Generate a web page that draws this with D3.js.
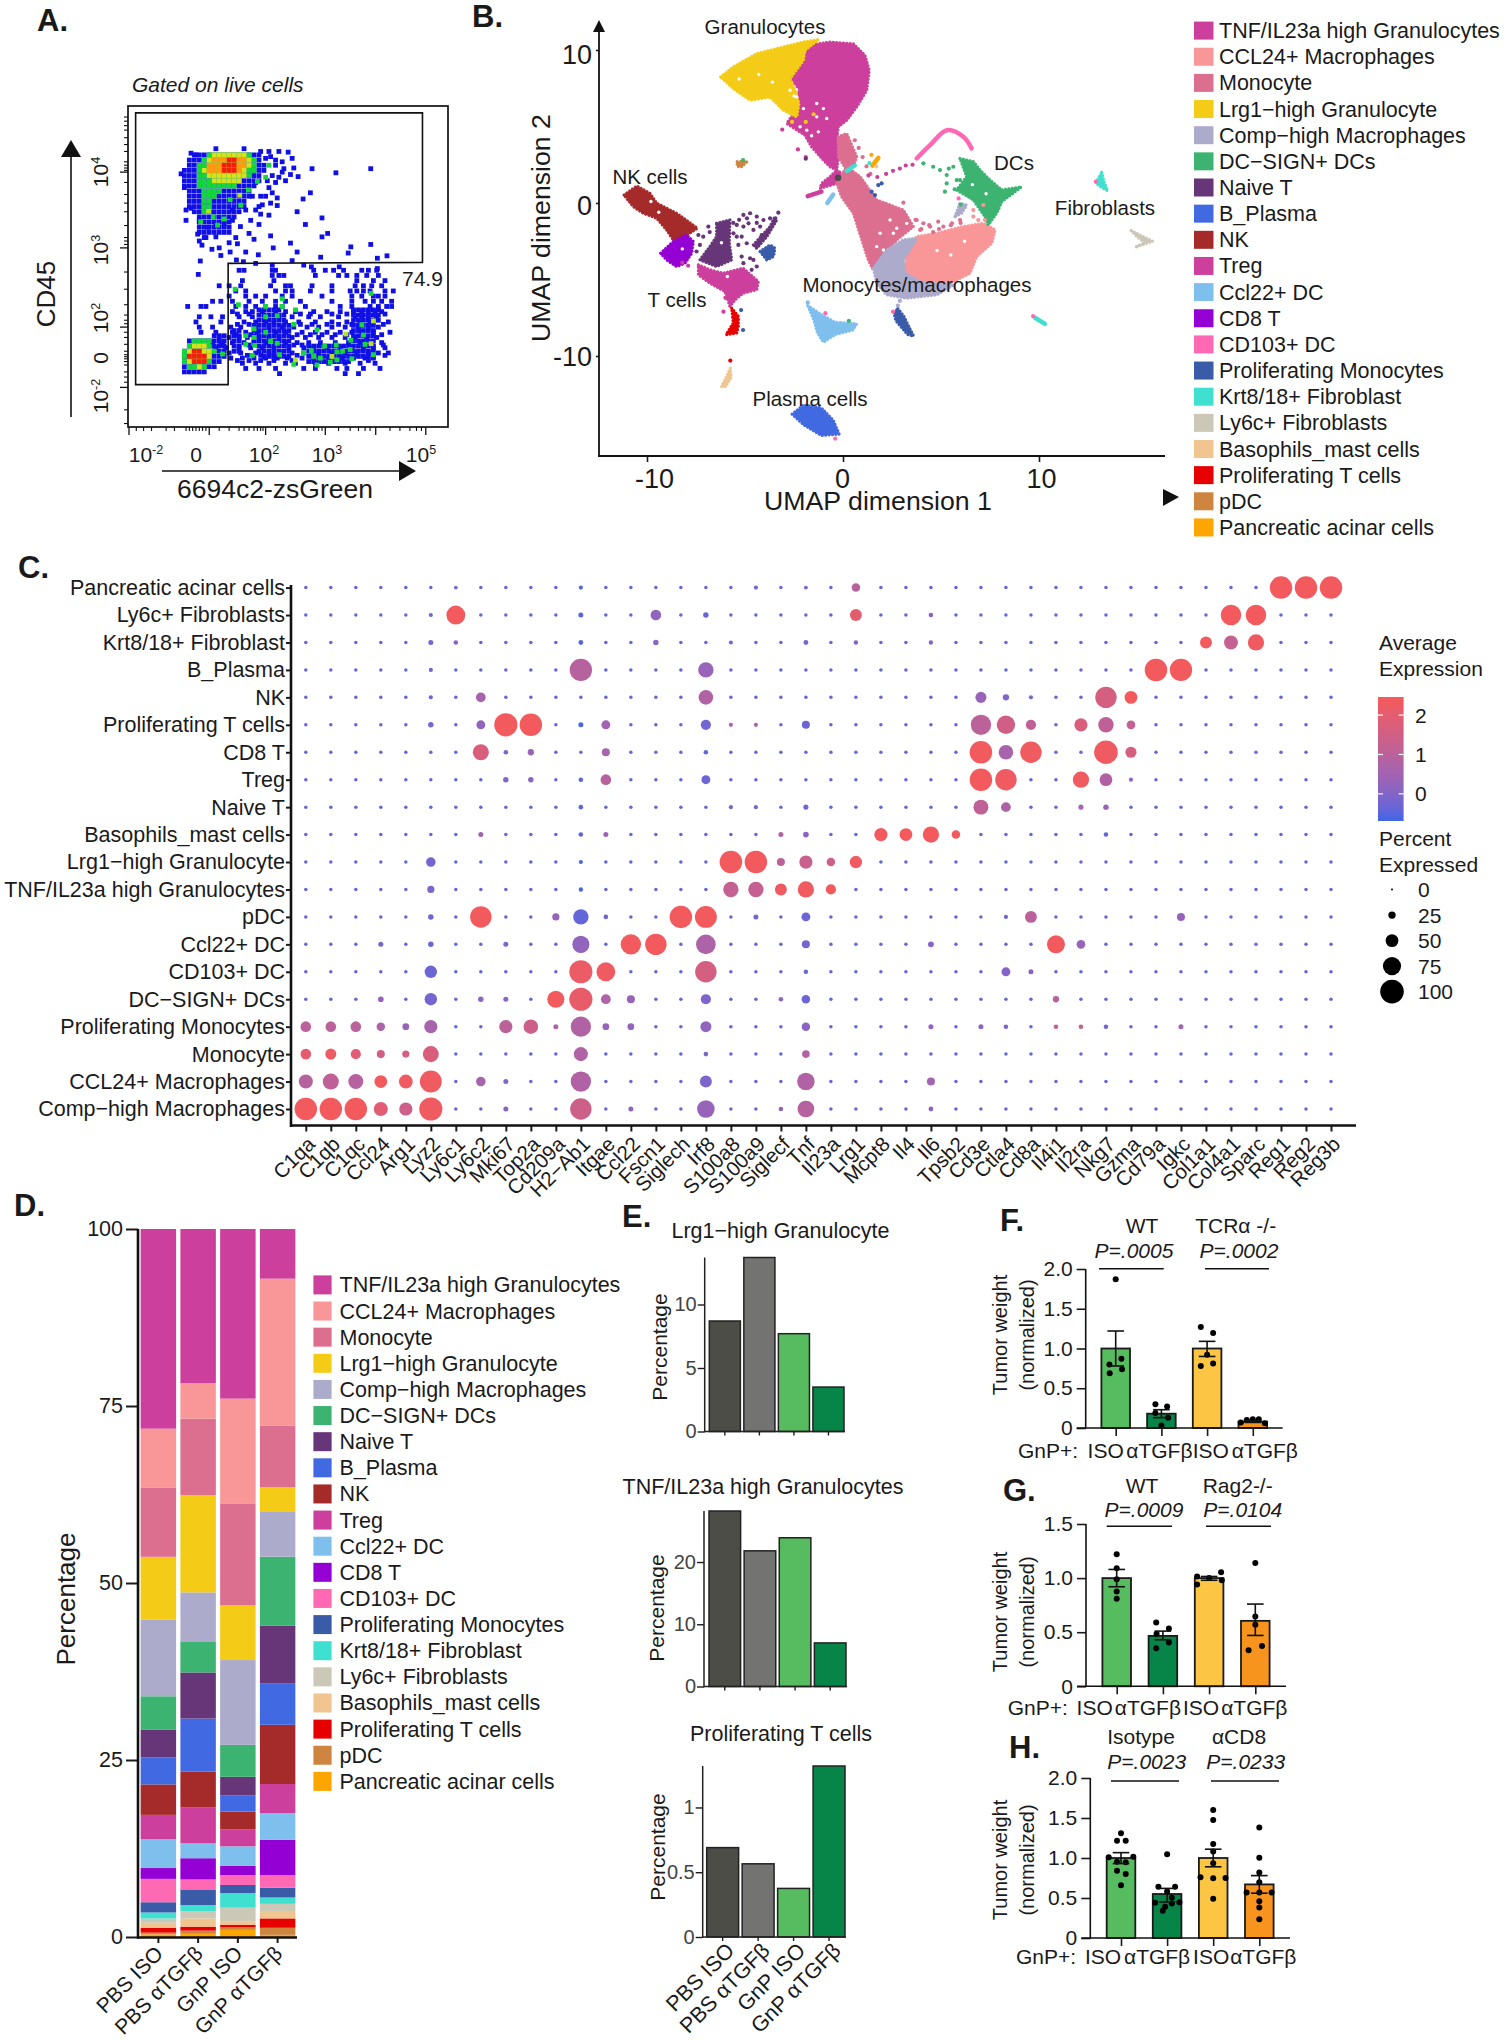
<!DOCTYPE html>
<html><head><meta charset="utf-8">
<script src="https://cdn.jsdelivr.net/npm/d3@7/dist/d3.min.js"></script>
<style>html,body{margin:0;padding:0;background:#fff}svg{display:block}text{font-family:"Liberation Sans",Arial,sans-serif;fill:#1a1a1a}</style>
</head><body><svg id="fig" width="1504" height="2040" viewBox="0 0 1504 2040"></svg>
<script>
// ---------- shared categories ----------
const cellTypes=["TNF/IL23a high Granulocytes","CCL24+ Macrophages","Monocyte","Lrg1−high Granulocyte","Comp−high Macrophages","DC−SIGN+ DCs","Naive T","B_Plasma","NK","Treg","Ccl22+ DC","CD8 T","CD103+ DC","Proliferating Monocytes","Krt8/18+ Fibroblast","Ly6c+ Fibroblasts","Basophils_mast cells","Proliferating T cells","pDC","Pancreatic acinar cells"];
const cellColors=["#CC3F9C","#F99698","#DC6E90","#F4CC17","#ADABCC","#3CB371","#663679","#4169E1","#A52A2A","#CC3F9C","#7EBFEE","#9400D3","#FF69B4","#3A5CA8","#40E0D0","#CBC8B8","#F0C58F","#E60000","#CD853F","#FFA500"];
const groups=["PBS ISO","PBS αTGFβ","GnP ISO","GnP αTGFβ"];
const groupColors=["#4d4d47","#737371","#57bb5f","#078549"];
const weightColors=["#57bb5f","#078549","#fcc644","#f7941d"];

// ---------- A: flow cytometry, read in channel units ----------
const gatePath=[[408,328],[1273,328],[1273,762],[687,765],[687,1117],[408,1117]];
const flowBlue=[[[545,505],[575,450],[650,435],[790,440],[800,500],[760,560],[740,610],[700,650],[690,680],[640,680],[610,700],[595,670],[590,620],[555,610],[570,570],[550,545]],[[540,1030],[570,985],[640,975],[680,965],[690,1040],[620,1080],[545,1085]],[[770,900],[850,890],[880,960],[870,1040],[790,1045],[760,980]],[[1065,900],[1145,890],[1130,1050],[1065,1050]],[[925,995],[1060,995],[1060,1060],[925,1060]],[[695,955],[735,955],[735,1035],[695,1035]]];
const flowGreen=[[[590,490],[620,445],[740,440],[785,470],[760,510],[700,545],[650,560],[640,610],[600,620],[610,560],[590,520]],[[545,1035],[575,990],[635,990],[650,1025],[615,1075],[560,1070]]];
const flowYellow=[[[610,490],[640,450],[740,450],[760,470],[740,520],[680,540],[640,530]],[[555,1040],[580,1000],[630,1005],[640,1035],[600,1070]]];
const flowOrange=[[[620,490],[650,455],[720,450],[745,470],[720,510],[660,510]]];
const flowRed=[[[665,480],[690,455],[715,460],[715,500],[680,510]],[[560,1040],[590,1015],[625,1025],[630,1045],[600,1060]]];
const flowSparse=[[940,490],[1012,502],[1117,490],[885,488],[875,507],[898,513],[935,560],[913,578],[895,615],[970,633],[920,652],[987,678],[970,688],[875,706],[1057,717],[1117,710],[1049,735],[895,732],[823,720],[815,685],[765,695],[750,678],[780,652],[724,658],[710,690],[690,705],[715,708],[660,720],[638,724],[608,712],[595,680],[650,688],[740,732],[693,732],[665,742],[778,740],[880,757],[966,747],[1137,750],[1166,743],[603,758],[597,797],[712,755],[733,760],[770,765],[820,770],[915,770],[938,775],[1022,775],[1137,780],[545,505],[555,545],[575,445],[590,450],[650,432],[735,432],[785,440],[810,440],[840,440],[868,442],[880,460],[860,525],[850,500],[830,530],[835,575],[835,597],[810,625],[785,622],[760,570],[740,610],[600,700],[620,690],[560,610],[575,605],[560,640],[600,640],[625,660],[650,655],[675,650],[700,640],[700,610],[780,600],[790,595],[820,560],[810,545],[785,570],[830,480],[800,460],[850,470],[855,490],[820,510],[770,530],[815,455],[830,465],[840,515],[805,525],[800,570],[815,590],[770,610],[755,640]];
const flowRows=[[785,[720,735,820,830,945,980,1005,1035,1090,1110,1135]],[800,[820,840,855,950,1020,1045,1075,1105,1140]],[815,[730,825,1075,1125,1160]],[830,[660,690,725,815,860,875,940,1000,1070,1095,1120,1150]],[845,[710,740,830,860,880,935,1000,1055,1075,1095,1115,1160,1185]],[860,[690,740,770,800,850,880,970,1060,1090,1125,1140,1160]],[875,[640,665,700,750,790,830,860,905,1000,1060,1100,1125,1150,1180]],[890,[565,605,620,710,740,770,800,830,850,920,1025,1060,1115,1140,1165,1180]],[905,[700,740,760,790,830,860,890,945,985,1025,1065,1090,1110,1130,1150]],[920,[600,635,670,720,760,800,840,880,930,965,1020,1070,1090,1110,1135]],[935,[590,665,735,770,800,825,860,900,950,1000,1045,1085,1115,1170]],[950,[600,640,695,725,770,810,850,885,925,960,1000,1040,1080,1110,1140]],[965,[605,650,700,740,775,800,830,860,910,950,985,1025,1060,1090,1125,1175]],[980,[660,690,720,745,780,810,840,880,920,960,1000,1040,1070,1105,1135]],[995,[640,670,700,735,765,800,830,860,895,930,965,1010,1050,1085,1120,1150]],[1010,[650,680,720,755,790,825,870,915,945,985,1025,1060,1095,1125,1160]],[1025,[690,725,770,810,845,880,915,960,1000,1040,1075,1110,1140,1170]],[1040,[695,730,765,800,835,865,910,945,990,1030,1065,1100,1125]],[1055,[730,770,810,860,890,950,990,1040,1085,1130]],[1070,[740,780,830,915,950,1015,1045,1095,1145]],[1085,[842,1040,1080]],[912,[715,750,905,935,1000,1045,1160]],[942,[715,750,905,940,985,1020,1060,1155]],[972,[710,755,895,935,970,1010,1045,1150]],[1002,[665,750,885,910,1155]],[1032,[745,785,825,895,1160]],[1047,[715,750,785,825,880,1110]]];
const flowGreenDots=[[708,840],[718,885],[850,868],[850,890],[890,900],[800,890],[800,920],[835,917],[885,942],[765,955],[800,965],[765,980],[740,975],[740,1000],[767,1003],[815,990],[835,997],[760,1032],[842,1030],[915,1025],[938,1018],[945,1035],[965,1040],[955,1060],[995,1052],[1015,1045],[1015,1022],[1032,1020],[1055,1015],[1057,988],[1095,973],[1100,1000],[1125,1030],[1060,1042],[885,1058],[978,1005],[1013,1002],[955,958],[1090,943],[1118,852],[670,1028],[810,480],[800,515],[775,527],[748,552],[693,580],[725,596],[642,630],[675,636],[655,654],[604,644]];
const flowYellowDots=[[1125,932],[1042,970],[1118,998],[890,1045],[1000,1035],[722,567],[628,614]];
const flowYMajor=[500,720,950,1125];
const flowYMinor=[340,352,365,378,400,420,440,470,480,488,495,530,565,590,615,655,690,700,710,790,840,885,915,930,940,965,980,1000,1020,1030,1036,1042,1050,1060,1080,1095,1110,1190,1230];
const flowXMajor=[388,630,800,980,1132,1283];
const flowXMinor=[410,432,456,500,525,560,570,580,590,600,610,620,660,690,720,735,750,765,775,785,792,830,860,890,925,945,960,970,1020,1055,1080,1100,1115,1175,1205,1235,1255,1270];

// ---------- B: UMAP outlines and stray cells, read in UMAP units ----------
const umapShapes=[
[0,[[-2.02,9.33],[-1.77,10.3],[-.66,10.52],[.53,10.41],[1.12,9.65],[1.34,8.67],[1.21,7.37],[.7,6.28],[.19,5.41],[-.24,4.98],[-.32,4.11],[-.24,3.02],[-.32,2.15],[-.66,2.37],[-1,2.8],[-1.6,3.67],[-1.94,4.43],[-2.87,5.2],[-2.6,5.7],[-2.36,5.9],[-2.4,6.8],[-2.2,7.4],[-2.7,8.13]]],
[3,[[-6.24,8.24],[-5.6,8.89],[-4.4,9.76],[-3.04,10.2],[-2.02,10.52],[-1.26,10.67],[-1.94,9.98],[-2.02,9.33],[-2.7,8.13],[-2.45,7.37],[-2.25,6.5],[-2.36,5.63],[-3.04,6.07],[-3.72,6.93],[-4.74,6.72],[-5.6,7.48]]],
[0,[[-.32,2.15],[.19,1.72],[-.32,1.28],[-1.17,.96],[-1.09,1.28],[-.66,1.72]]],
[2,[[-.32,1.28],[.19,2.37],[.87,1.72],[1.72,.2],[3.08,-.46],[3.59,-1.54],[2.74,-2.41],[1.89,-3.72],[1.55,-4.37],[1.29,-3.72],[.53,-.67],[-.07,.41]]],
[2,[[-.24,4.33],[.19,4.54],[.7,3.02],[.53,2.37],[.19,2.15],[-.24,3.02]]],
[1,[[3.08,-3.07],[3.77,-2.2],[4.79,-1.98],[6.14,-1.54],[7.16,-1.33],[7.76,-1.76],[7.59,-2.63],[6.82,-3.5],[6.48,-4.59],[5.46,-5.24],[4.1,-5.24],[3.08,-4.59],[3.25,-3.72]]],
[4,[[1.55,-4.26],[2.23,-3.07],[3.08,-2.41],[3.76,-2.3],[3.08,-3.72],[3.16,-4.59],[4.1,-5.24],[5.63,-5.35],[4.78,-6],[3.25,-6.22],[2.23,-6],[1.72,-5.24]]],
[4,[[5.71,-.89],[5.97,-.02],[6.31,-.13],[6.05,-.67]]],
[5,[[5.97,2.91],[6.65,2.7],[6.99,2.15],[7.5,1.5],[8.1,.85],[9.1,1.05],[8.1,.09],[7.84,-.67],[7.41,-1.43],[7.24,-.89],[6.65,.2],[5.8,.85],[6.31,1.72]]],
[8,[[-11.17,.52],[-10.52,1.11],[-9.85,.63],[-9.5,-.02],[-8.49,-.67],[-7.43,-1.65],[-7.98,-2.09],[-8.66,-2.41],[-9,-1.76],[-9.5,-1],[-10.19,-.67],[-10.7,-.24]]],
[6,[[-6.45,-1.33],[-5.77,-1.11],[-5.8,-2.63],[-5.68,-3.72],[-6.45,-4.15],[-7.3,-3.72],[-6.79,-2.85],[-6.45,-2.2]]],
[6,[[-4.57,-2.74],[-3.72,-1.54],[-3.47,-.89],[-3.38,-1.11],[-3.89,-2.2],[-4.4,-2.96]]],
[11,[[-9.3,-3.28],[-8.66,-2.52],[-7.98,-2.09],[-7.64,-2.52],[-7.72,-3.28],[-8.06,-3.93],[-8.49,-4.15],[-9,-3.72]]],
[9,[[-7.38,-4.04],[-6.79,-4.37],[-6.11,-4.59],[-5.09,-4.26],[-4.32,-5.13],[-4.4,-5.67],[-5.09,-5.89],[-5.51,-6.33],[-5.77,-6.76],[-6.02,-5.78],[-6.79,-5.24],[-7.38,-4.7]]],
[17,[[-5.68,-6.87],[-5.34,-7.41],[-5.34,-8.07],[-5.43,-8.5],[-5.97,-8.61],[-5.6,-7.85]]],
[10,[[-1.8,-6.7],[-1.1,-7.3],[-.4,-7.8],[.7,-7.9],[.5,-8.3],[-.4,-8.6],[-1,-9.1],[-1.3,-8.5],[-1.5,-7.6]]],
[13,[[2.8,-6.9],[3.1,-7.4],[3.6,-8.7],[3.3,-8.6],[2.7,-7.7],[2.6,-7.2]]],
[13,[[-4.23,-3.17],[-3.72,-2.74],[-3.47,-2.96],[-3.55,-3.5],[-3.89,-3.72]]],
[14,[[13.2,2],[13.3,1.45],[13.5,.8],[13.1,1.1],[12.9,1.3]]],
[15,[[14.7,-1.8],[15.8,-2.5],[14.9,-2.9],[15.4,-2.6],[15,-2.2]]],
[16,[[-5.75,-10.8],[-5.7,-11.4],[-6,-12],[-6.2,-12],[-6,-11.5]]],
[7,[[-2.6,-13.8],[-2,-13.2],[-1.1,-13.4],[-.5,-14.2],[-.2,-15.1],[-1.1,-15.2],[-2,-14.5]]],
[18,[[-5.4,2.7],[-4.9,2.7],[-5.2,2.35],[-5.4,2.4]]]];
const umapStrokes=[[12,[[3.76,2.91],[4.44,3.78],[5.3,4.76],[6.14,4.33],[6.56,3.57]]],[14,[[9.8,-7.5],[10.3,-7.9]]],[14,[[.2,2.1],[.6,2.45]]],[19,[[1.5,2.45],[1.8,2.95]]],[10,[[-.5,.55],[-.8,0]]],[9,[[-1.8,.45],[-1.1,.75]]]];
const umapDots=[[2,[[3.7,-1.1],[4.4,-1.45],[4.9,-1.7],[5.5,-1.45],[4,-1.7],[6,-1.3],[4.6,-1.9],[.8,3.6],[1,3],[.6,4.1],[1.2,2.4],[1.4,1.9],[3.76,-1.11],[4.1,-1.33],[4.44,-1.54],[4.86,-1.22],[5.12,-1.54],[5.56,-1.33],[5.97,-1.11],[3.08,.02],[3.25,-1.11],[3.94,-1.76]]],
[9,[[1.3,1.8],[1.75,1.7],[2.2,1.9],[2.55,2.1],[2.9,2.25],[3.2,2.45],[3.55,2.5],[-2.3,3.5],[-1.9,3],[-3.1,4.8],[-7.9,-4.1],[-8.2,-3.9],[-6,-6.2],[-6.1,-7.1]]],
[5,[[4.1,2.59],[4.6,2.37],[4.95,2.15],[5.29,1.83],[5.63,2.37],[5.97,1.5],[5.29,1.28],[5.2,.74],[5.4,2.25],[5.8,1.5],[5.7,.9],[6,-.1]]],
[6,[[-6.87,-1.54],[-7.13,-2.2],[-7.38,-2.09],[-7.3,-2.74],[-7.47,-3.17],[-5.08,-.78],[-4.74,-.67],[-4.4,-.89],[-4.06,-1.11],[-3.72,-1],[-3.3,-.63],[-5.42,-1.43],[-5.08,-1.54],[-4.82,-1.33],[-4.57,-1.76],[-4.23,-1.54],[-5.17,-2.2],[-5.34,-2.74],[-4.91,-2.63],[-5.17,-3.5],[-4.74,-3.61],[-5.08,-3.93],[-4.57,-3.72],[-4.4,-4.15],[-4.66,-4.37],[-5.42,-2.2],[-5.59,-1.98],[-4.15,-2.09],[-5.3,-1.1],[-4.9,-1],[-5.6,-1.3],[-4.4,-1.3],[-6.8,-1.9],[-1.9,2.9]]],
[1,[[6.65,-.46],[7.16,-.13],[7.24,-1.11],[6.65,-.89],[6.9,-1.11]]],
[13,[[1.46,.74],[1.63,.52],[1.97,1.28],[1.8,1.17],[-5.2,-7],[-5.1,-8.3]]],
[10,[[-1.8,-6.5]]],[5,[[.3,-7.7],[-5.1,2.8]]],[17,[[-5.75,-10.3]]],[12,[[-.9,-7.2],[5.9,.3],[-.4,-15.4],[2.55,-7.1],[9.7,-7.4],[12.9,1.4]]],
[4,[[2.8,-6.7],[2.9,-6.4]]],[14,[[1.35,2.6]]],[16,[[1.7,2.4]]],[19,[[1.45,3.15]]],[3,[[-1.9,5.3],[-2.6,5.3],[-1.5,5.8]]]];
const umapHoles=[[-2.7,7.37],[-2.36,6.93],[-2.02,6.17],[-1.34,6.5],[-1,6.17],[-1.34,5.63],[-.83,5.52],[-1.85,4.76],[-2.19,4.98],[-1.26,4.65],[2.4,-1.11],[1.89,-1.98],[2.57,-1.98],[1.72,-2.85],[2.06,-3.07],[2.74,-1.65],[3.25,-1.33],[-3.6,7.9],[-4.3,8.4],[-5.3,8.1],[-2.5,7],[-1.6,4.4],[-6.2,-2.6],[-5.9,-4.8],[6.6,1.2],[7.3,.6],[5.5,-3.4],[6.2,-2.5],[4.8,-3.1],[-9.8,.1],[-9.4,-.6],[-8.2,-3]];
const umapLabels=[["Granulocytes",765,34],["DCs",1014,170],["NK cells",650,184],["Fibroblasts",1105,215],["T cells",677,307],["Monocytes/macrophages",917,292],["Plasma cells",810,406]];

// ---------- C: dot plot ----------
const dotRowLabels=["Pancreatic acinar cells","Ly6c+ Fibroblasts","Krt8/18+ Fibroblast","B_Plasma","NK","Proliferating T cells","CD8 T","Treg","Naive T","Basophils_mast cells","Lrg1−high Granulocyte","TNF/IL23a high Granulocytes","pDC","Ccl22+ DC","CD103+ DC","DC−SIGN+ DCs","Proliferating Monocytes","Monocyte","CCL24+ Macrophages","Comp−high Macrophages"];
const dotGenes=["C1qa","C1qb","C1qc","Ccl24","Arg1","Lyz2","Ly6c1","Ly6c2","Mki67","Top2a","Cd209a","H2−Ab1","Itgae","Ccl22","Fscn1","Siglech","Irf8","S100a8","S100a9","Siglecf","Tnf","Il23a","Lrg1","Mcpt8","Il4","Il6","Tpsb2","Cd3e","Ctla4","Cd8a","Il4i1","Il2ra","Nkg7","Gzma","Cd79a","Igkc","Col1a1","Col4a1","Sparc","Reg1","Reg2","Reg3b"];
const dotBaseline=[7,-.35];
const dotReadings=[
[["H2−Ab1",10,-.6],["Ly6c1",8,-.1],["S100a9",10,-.2],["Tnf",9,0],["Lrg1",30,.9],["Reg1",95,2.4],["Reg2",95,2.4],["Reg3b",95,2.4]],
[["Ly6c1",78,2.4],["H2−Ab1",14,-.5],["Fscn1",40,.2],["Lyz2",10,-.2],["Irf8",16,-.3],["Lrg1",46,2],["Il6",12,0],["Col4a1",86,2.4],["Sparc",86,2.4]],
[["H2−Ab1",13,-.5],["Lyz2",14,-.2],["Ly6c1",12,.1],["Fscn1",16,.1],["Tnf",13,-.2],["Il6",11,.1],["Lrg1",11,-.1],["S100a8",10,-.1],["Col1a1",46,2.4],["Col4a1",55,1.2],["Sparc",66,2.3]],
[["H2−Ab1",94,.9],["Lyz2",10,-.3],["Irf8",62,.3],["Cd79a",95,2.4],["Igkc",94,2.4]],
[["Ly6c2",36,.6],["Lyz2",10,-.3],["Irf8",58,.8],["Cd3e",42,.3],["Ctla4",20,-.1],["Cd8a",10,-.1],["Nkg7",90,1.6],["Gzma",50,2.4]],
[["Lyz2",16,-.2],["Ly6c2",32,.2],["Mki67",98,2.4],["Top2a",95,2.4],["Itgae",32,.5],["H2−Ab1",14,-.6],["Irf8",38,-.2],["S100a8",10,.6],["S100a9",10,.6],["Tnf",28,-.3],["Cd3e",85,1],["Ctla4",76,1.5],["Cd8a",38,1.1],["Il2ra",52,1.7],["Nkg7",62,1.1],["Gzma",31,1.2]],
[["Ly6c2",65,1.7],["Mki67",12,-.1],["Top2a",20,.3],["Itgae",28,.6],["Irf8",12,-.4],["Cd3e",95,2.4],["Ctla4",58,.6],["Cd8a",90,2.3],["Nkg7",100,2.3],["Gzma",42,1.6]],
[["Mki67",16,0],["Top2a",16,.1],["Itgae",40,.9],["H2−Ab1",12,-.5],["Irf8",32,-.3],["Cd3e",95,2.4],["Ctla4",90,2.3],["Il2ra",66,2.3],["Nkg7",50,.8],["Gzma",10,.2]],
[["Cd3e",60,1.1],["Ctla4",36,.7],["Il2ra",14,.5],["Nkg7",16,.3],["H2−Ab1",12,-.5],["Tnf",14,-.3],["S100a8",10,-.2],["S100a9",10,-.2]],
[["Ly6c2",14,.4],["Itgae",14,.4],["H2−Ab1",12,-.5],["Siglecf",14,.8],["Tnf",17,.1],["Mcpt8",52,2.4],["Il4",50,2.4],["Il6",66,2.4],["Tpsb2",30,2.4],["Nkg7",12,-.4]],
[["Lyz2",35,-.2],["H2−Ab1",10,-.6],["S100a8",95,2.4],["S100a9",95,2.4],["Siglecf",28,1],["Tnf",52,1.3],["Il23a",30,1.4],["Lrg1",48,2.3]],
[["Lyz2",24,-.1],["H2−Ab1",11,-.6],["S100a8",62,1.2],["S100a9",62,1.2],["Siglecf",46,2.3],["Tnf",66,2.3],["Il23a",38,2.4]],
[["Ly6c2",90,2.4],["Lyz2",16,-.3],["Cd209a",24,.3],["H2−Ab1",62,-.4],["Itgae",12,-.3],["Siglech",95,2.4],["Irf8",92,2.4],["S100a9",14,-.2],["Tnf",32,-.3],["Ctla4",10,-.3],["Cd8a",46,1],["Igkc",28,.3]],
[["H2−Ab1",70,.2],["Lyz2",16,-.3],["Ccl24",14,-.2],["Mki67",14,-.1],["Ccl22",85,2.4],["Fscn1",90,2.4],["Irf8",82,.7],["Tnf",28,-.2],["Il6",18,0],["Il4i1",74,2.4],["Il2ra",31,.3]],
[["Lyz2",48,-.3],["H2−Ab1",98,2.2],["Itgae",78,2.3],["Irf8",90,1.6],["Ctla4",32,0],["Cd8a",14,.1],["Tnf",12,-.3]],
[["Lyz2",48,-.2],["Ccl24",17,.3],["Cd209a",70,2.4],["H2−Ab1",98,2.1],["Itgae",36,.7],["Ccl22",28,.3],["Ly6c2",16,.1],["Mki67",14,.1],["Irf8",38,-.1],["Tnf",30,-.3],["Siglecf",12,.1],["Il4i1",20,.9]],
[["C1qa",40,1],["C1qb",40,1],["C1qc",40,1],["Ccl24",30,.7],["Arg1",22,.3],["Lyz2",52,.6],["Mki67",52,1],["Top2a",58,1.4],["Cd209a",14,.8],["H2−Ab1",85,.8],["Itgae",22,.3],["Ccl22",22,.3],["Irf8",42,.2],["Tnf",30,.1],["Il6",14,.2],["Cd3e",14,.1],["Ctla4",12,-.1],["Il4i1",12,1.2],["Il2ra",12,1],["Nkg7",12,-.2],["Igkc",14,.5]],
[["C1qa",40,2],["C1qb",42,2.2],["C1qc",38,1.9],["Ccl24",28,1.5],["Arg1",24,1.6],["Lyz2",65,1.7],["H2−Ab1",56,.8],["Tnf",26,.8],["Irf8",12,-.1]],
[["C1qa",56,.9],["C1qb",65,1.1],["C1qc",60,.9],["Ccl24",50,2.4],["Arg1",55,2.3],["Lyz2",92,2.3],["Ly6c2",35,.6],["Mki67",14,.1],["H2−Ab1",85,.8],["Irf8",46,-.1],["Tnf",72,.8],["Il6",28,.5]],
[["C1qa",95,2.4],["C1qb",95,2.4],["C1qc",95,2.4],["Ccl24",56,1.9],["Arg1",52,1.4],["Lyz2",98,2.3],["H2−Ab1",90,1.4],["Mki67",14,.1],["Ccl22",14,.2],["Irf8",72,.3],["Tnf",68,.9],["Il6",13,.1],["Siglecf",12,.2]]];
const sizeLegend=[0,25,50,75,100];
const colorLegendTicks=[0,1,2];

// ---------- D: composition, one column per group, in cellTypes order ----------
const pbsIso=[28.2,8.3,9.8,8.9,10.8,4.75,3.9,3.8,4.3,3.45,4.06,1.53,3.3,1.45,.85,.6,.7,.69,.25,.37];
const pbsTgfb=[21.75,5,10.8,13.7,7,4.3,6.5,7.5,5,5.1,2.1,3,1.4,2.2,.9,1,1.15,.56,.45,.45];
const gnpIso=[23.9,14.85,14.3,7.7,11.95,4.5,2.6,2.3,2.5,2.4,2.75,1.3,1.4,1.15,2.05,1.9,.5,.38,.35,1];
const gnpTgfb=[7,20.75,8.65,3.5,6.3,9.7,8.2,5.8,8.35,4.1,3.75,5,1.75,1.4,.9,1,1.05,1.32,1,.3];

// ---------- E ----------
const lrg1Share=[8.7,13.7,7.7,3.5];
const tnfShare=[28.2,21.8,23.9,7];
const prolifTShare=[.69,.565,.375,1.32];

// ---------- F, G, H: normalised tumour weight ----------
const weightGroups=["A","B","C","D"];
const isoTgfbLabels=["ISO","αTGFβ","ISO","αTGFβ"];
const weightF=[1,.18,1,.08];
const errF=[[.78,1.22],[.13,.23],[.9,1.09],[.07,.09]];
const pointsF=[[1.87,.8,.87,.74,.69],[.3,.27,.19,.13,.03],[1.27,1.195,.92,.78,.81],[.07,.1,.11,.11,.06]];
const jitterF=[[0,-6.3,5.7,6.3,-6],[-6,5.7,-6,6.7,0],[-6.3,6,0,-6.3,6],[-12,-6,0,6,12]];
const weightG=[1,.466,1,.605];
const errG=[[.92,1.08],[.43,.51],[.98,1.015],[.47,.76]];
const pointsG=[[1.22,1.09,.99,.877,.81],[.59,.534,.485,.404,.352],[1.015,1,1.055,.98,.94],[1.14,.645,.568,.373,.333]];
const jitterG=[[0,0,0,0,0],[-6.7,6,-6.3,6,-6.7],[-12,0,12,12.7,-12],[0,0,0,6.7,-6.7]];
const weightH=[1,.55,1,.67];
const errH=[[.93,1.067],[.45,.62],[.89,1.11],[.56,.78]];
const pointsH=[[1.31,1.217,1.217,1.008,1.017,.954,.946,.84,.8,.66],[1.046,.64,.64,.58,.44,.446,.504,.34,.39,.43],[1.6,1.475,1.175,1.08,.933,.758,.746,.75,.49],[1.38,1.004,.82,.696,.57,.57,.57,.46,.38,.233]];
const jitterH=[[0,-4,4.7,-12.3,12.3,-4,4.7,-4,4.7,0],[0,-8.7,8,0,-12,12.3,4.7,-4.3,-2,4.7],[0,0,0,0,0,-12.7,0,12.3,0],[0,0,0,0,-12.7,0,12.3,0,0,0]];

// ---------- helpers ----------
const svg=d3.select("#fig");
function txt(x,y,s,o={}){const t=svg.append("text").attr("x",x).attr("y",y).text(s).attr("font-size",o.size||21).attr("text-anchor",o.anchor||"start");
 if(o.italic)t.attr("font-style","italic");if(o.bold)t.attr("font-weight","bold");if(o.fill)t.style("fill",o.fill);if(o.rot!=null)t.attr("transform",`rotate(${o.rot} ${x} ${y})`);return t;}
function sup(x,y,base,exp,o={}){const t=svg.append("text").attr("x",x).attr("y",y).attr("font-size",o.size||21).attr("text-anchor",o.anchor||"middle");
 t.append("tspan").text(base);if(exp)t.append("tspan").text(exp).attr("font-size",(o.size||21)*.6).attr("dy",-8);if(o.rot!=null)t.attr("transform",`rotate(${o.rot} ${x} ${y})`);}
function arrow(pts){svg.append("path").attr("d",d3.line()(pts)+"Z").attr("fill","#111");}
function line(x1,y1,x2,y2,c="#1a1a1a",w=1.6){svg.append("line").attr("x1",x1).attr("y1",y1).attr("x2",x2).attr("y2",y2).attr("stroke",c).attr("stroke-width",w);}
function styleAxis(g,o){g.select(".domain").remove();g.selectAll("line").attr("stroke",o.color||"#1a1a1a").attr("stroke-width",o.w||1.6);g.selectAll("text").attr("font-size",o.size||21).attr("font-family",'"Liberation Sans",Arial,sans-serif').style("fill",o.text||"#1a1a1a");}

// panel letters
[["A.",37,31],["B.",472,27],["C.",18,578],["D.",14,1216],["E.",622,1227],["F.",1000,1231],["G.",1003,1501],["H.",1009,1758]].forEach(d=>txt(d[1],d[2],d[0],{size:31,bold:true}));

// ---------- panel A ----------
const flowX=d3.scaleLinear([385,1350],[128,448]), flowY=d3.scaleLinear([308,1240],[106,427]);
const flowStep=15;
function blocks(polys,c){polys.forEach(p=>{const xs=d3.extent(p,d=>d[0]),ys=d3.extent(p,d=>d[1]),cells=[];
 d3.range(Math.floor(ys[0]/flowStep)*flowStep,ys[1],flowStep).forEach(y=>d3.range(Math.floor(xs[0]/flowStep)*flowStep,xs[1],flowStep).forEach(x=>{if(d3.polygonContains(p,[x,y]))cells.push([x,y]);}));
 sq(cells,c);});}
const sq=(p,c)=>svg.append("g").selectAll("rect").data(p).join("rect").attr("x",d=>flowX(d[0])-2.4).attr("y",d=>flowY(d[1])-2.4).attr("width",4.8).attr("height",4.8).attr("fill",c);
const flowBlueC="#1010e6";
blocks(flowBlue,flowBlueC);
sq(flowSparse,flowBlueC);
flowRows.forEach(r=>sq(r[1].map(x=>[x,r[0]]),flowBlueC));
blocks(flowGreen,"#12d838");blocks(flowYellow,"#d6e21c");blocks(flowOrange,"#ff9a10");blocks(flowRed,"#f0200c");
sq(flowGreenDots,"#12d838");sq(flowYellowDots,"#b4e41e");
svg.append("rect").attr("x",128).attr("y",106).attr("width",320).attr("height",321).attr("fill","none").attr("stroke","#111").attr("stroke-width",1.7);
svg.append("path").attr("d",d3.line().x(d=>flowX(d[0])).y(d=>flowY(d[1]))(gatePath)+"Z").attr("fill","none").attr("stroke","#111").attr("stroke-width",1.6);
flowYMajor.forEach(v=>line(120,flowY(v),128,flowY(v),"#111",1.3));flowYMinor.forEach(v=>line(124,flowY(v),128,flowY(v),"#111",1.1));
flowXMajor.forEach(v=>line(flowX(v),427,flowX(v),435,"#111",1.3));flowXMinor.forEach(v=>line(flowX(v),427,flowX(v),431,"#111",1.1));
[["10","4",172],["10","3",250],["10","2",318],["0","",358],["10","-2",396]].forEach(d=>sup(108,d[2],d[0],d[1],{rot:-90}));
[["10","-2",146],["0","",196],["10","2",264],["10","3",327],["10","5",421]].forEach(d=>sup(d[2],462,d[0],d[1]));
line(71,417,71,150,"#111",1.6);arrow([[71,140],[61,157],[81,157]]);
line(162,471,402,471,"#111",1.6);arrow([[416,471],[399,461],[399,481]]);
txt(55,294,"CD45",{size:26,anchor:"middle",rot:-90});
txt(275,498,"6694c2-zsGreen",{size:26.5,anchor:"middle"});
txt(132,92,"Gated on live cells",{size:21,italic:true});
txt(402,286,"74.9",{size:21});

// ---------- panel B ----------
const umapX=d3.scaleLinear([-10,10],[647,1039]), umapY=d3.scaleLinear([-10,10],[356,50]);
const umapLine=d3.line().x(d=>umapX(d[0])).y(d=>umapY(d[1]));
const gB=svg.append("g");
umapShapes.forEach(s=>gB.append("path").attr("d",umapLine.curve(d3.curveLinearClosed)(s[1])).attr("fill",cellColors[s[0]]).attr("stroke",cellColors[s[0]]).attr("stroke-width",3.2).attr("stroke-linecap","round").attr("stroke-linejoin","round").attr("stroke-dasharray","0.1 3.3"));
umapStrokes.forEach(s=>gB.append("path").attr("d",umapLine.curve(d3.curveCatmullRom)(s[1])).attr("fill","none").attr("stroke",cellColors[s[0]]).attr("stroke-width",4.5).attr("stroke-linecap","round"));
gB.append("g").selectAll("circle").data(umapHoles).join("circle").attr("cx",d=>umapX(d[0])).attr("cy",d=>umapY(d[1])).attr("r",1.7).attr("fill","#fff");
umapDots.forEach(s=>gB.append("g").selectAll("circle").data(s[1]).join("circle").attr("cx",d=>umapX(d[0])).attr("cy",d=>umapY(d[1])).attr("r",2.1).attr("fill",cellColors[s[0]]));
gB.append("circle").attr("cx",umapX(-.25)).attr("cy",umapY(1.65)).attr("r",3.2).attr("fill","#4b4b4b");
let ax=svg.append("g").attr("transform","translate(0,456)").call(d3.axisBottom(umapX).tickValues([-10,0,10]).tickFormat(String).tickSize(6).tickPadding(7));styleAxis(ax,{size:27});
ax.selectAll("text").attr("dx",d=>d<0?7:d>0?2:-1);
ax=svg.append("g").attr("transform","translate(599,0)").call(d3.axisLeft(umapY).tickValues([-10,0,10]).tickFormat(String).tickSize(3).tickPadding(4));styleAxis(ax,{size:27});
ax.selectAll("text").attr("y",d=>d>0?5:d===0?3:1);
line(599,30,599,457,"#111",1.8);line(598,456,1165,456,"#111",1.8);arrow([[599,20],[593,32],[605,32]]);arrow([[1179,497],[1163,489],[1163,506]]);
umapLabels.forEach(d=>txt(d[1],d[2],d[0],{size:20.5,anchor:"middle"}));
txt(878,510,"UMAP dimension 1",{size:26.7,anchor:"middle"});
txt(550,228,"UMAP dimension 2",{size:26.7,anchor:"middle",rot:-90});
function legend(x,y0,step,w,h,tx){const y=d3.scalePoint(cellTypes,[y0,y0+step*19]);
 cellTypes.forEach((c,i)=>{svg.append("rect").attr("x",x).attr("y",y(c)-h/2).attr("width",w).attr("height",h).attr("fill",cellColors[i]);txt(tx,y(c)+7.5,c,{size:21.5});});}
legend(1194,30.6,26.15,19.5,18,1219);

// ---------- panel C ----------
const dotX=d3.scalePoint(dotGenes,[305.8,1331]), dotY=d3.scalePoint(dotRowLabels,[587.6,1109]);
const dotR=d3.scaleLinear([0,100],[1,11.8]);
const dotC=d3.scaleLinear([-.69,2.46],["#3F66E6","#F55A5A"]).interpolate(d3.interpolateLab);
const cells=[];dotRowLabels.forEach((r,i)=>{const m=new Map(dotReadings[i].map(d=>[d[0],d]));dotGenes.forEach(g=>{const d=m.get(g);cells.push({r,g,p:d?d[1]:dotBaseline[0],e:d?d[2]:dotBaseline[1]});});});
svg.append("g").selectAll("circle").data(cells).join("circle").attr("cx",d=>dotX(d.g)).attr("cy",d=>dotY(d.r)).attr("r",d=>dotR(d.p)).attr("fill",d=>dotC(d.e));
ax=svg.append("g").attr("transform","translate(291,0)").call(d3.axisLeft(dotY).tickSize(5).tickPadding(1));styleAxis(ax,{size:21.5,w:2});
ax=svg.append("g").attr("transform","translate(0,1125.5)").call(d3.axisBottom(dotX).tickSize(6));styleAxis(ax,{size:20.5,w:2});
ax.selectAll("text").attr("text-anchor","end").attr("dy",0).attr("y",0).attr("transform","translate(10,20) rotate(-45)");
line(291,585,291,1127,"#111",2.6);line(290,1125.5,1356,1125.5,"#111",2.6);
txt(1379,650,"Average",{size:21});txt(1379,676,"Expression",{size:21});
txt(1379,846,"Percent",{size:21});txt(1379,872,"Expressed",{size:21});
const grad=svg.append("defs").append("linearGradient").attr("id","cb").attr("x1",0).attr("x2",0).attr("y1",1).attr("y2",0);
d3.range(0,1.001,.1).forEach(t=>grad.append("stop").attr("offset",t).attr("stop-color",dotC(-.69+t*3.15)));
const cbY=d3.scaleLinear([-.69,2.46],[821,697]);
svg.append("rect").attr("x",1378).attr("y",697).attr("width",25.6).attr("height",124).attr("fill","url(#cb)");
colorLegendTicks.forEach(v=>{line(1378,cbY(v),1383,cbY(v),"#fff",1.2);line(1398.6,cbY(v),1403.6,cbY(v),"#fff",1.2);txt(1415,cbY(v)+7.5,v,{size:21});});
const szY=d3.scalePoint(sizeLegend,[889.6,991.6]);
sizeLegend.forEach(v=>{svg.append("circle").attr("cx",1392).attr("cy",szY(v)).attr("r",dotR(v)).attr("fill","#000");txt(1418,szY(v)+7.5,v,{size:21});});

// ---------- panel D ----------
const compTable=cellTypes.map((c,i)=>({key:c,i,"PBS ISO":pbsIso[i],"PBS αTGFβ":pbsTgfb[i],"GnP ISO":gnpIso[i],"GnP αTGFβ":gnpTgfb[i]}));
const compByGroup=groups.map(g=>Object.assign({g},Object.fromEntries(compTable.map(r=>[r.key,r[g]]))));
const stackD=d3.stack().keys([...cellTypes].reverse()).offset(d3.stackOffsetExpand)(compByGroup);
const dX=d3.scaleBand(groups,[138.5,297.5]).paddingInner(.108).paddingOuter(.054), dY=d3.scaleLinear([0,1],[1937,1229]);
stackD.forEach(s=>svg.append("g").selectAll("rect").data(s).join("rect").attr("x",d=>dX(d.data.g)).attr("width",dX.bandwidth()).attr("y",d=>dY(d[1])).attr("height",d=>dY(d[0])-dY(d[1])).attr("fill",cellColors[cellTypes.indexOf(s.key)]));
ax=svg.append("g").attr("transform","translate(138,0)").call(d3.axisLeft(dY).tickValues([0,.25,.5,.75,1]).tickFormat(d=>d*100).tickSize(12).tickPadding(3));styleAxis(ax,{size:21.5,w:2});
ax=svg.append("g").attr("transform","translate(0,1937)").call(d3.axisBottom(dX).tickSize(6));styleAxis(ax,{size:21,w:2});
ax.selectAll("text").attr("text-anchor","end").attr("dy",0).attr("y",0).attr("transform","translate(6,18) rotate(-45)");
line(138,1229,138,1938.5,"#111",2.6);line(137,1937.5,297,1937.5,"#111",2.6);
txt(75,1599,"Percentage",{size:26,anchor:"middle",rot:-90});
legend(313.4,1284.9,26.13,18.2,19,339.5);

// ---------- panel E ----------
function shareBars(vals,o){const x=d3.scaleBand(groups,[o.x0,o.x1]).paddingInner(.1).paddingOuter(0), y=d3.scaleLinear([0,o.max],[o.base,o.top]);
 svg.append("g").selectAll("rect").data(vals).join("rect").attr("x",(d,i)=>x(groups[i])).attr("width",x.bandwidth()).attr("y",d=>y(d)).attr("height",d=>o.base-y(d)).attr("fill",(d,i)=>groupColors[i]).attr("stroke","#222").attr("stroke-width",1.5);
 let a=svg.append("g").attr("transform",`translate(${o.ax},0)`).call(d3.axisLeft(y).tickValues(o.ticks).tickFormat(String).tickSize(7).tickPadding(1));styleAxis(a,{size:20,text:"#444",w:1.4});
 a=svg.append("g").attr("transform",`translate(0,${o.base})`).call(d3.axisBottom(x).tickSize(4));styleAxis(a,{size:21.5,w:1.4});
 if(o.labels)a.selectAll("text").attr("text-anchor","end").attr("dy",0).attr("y",0).attr("transform","translate(13,15) rotate(-45)");else a.selectAll("text").remove();
 line(o.ax,o.top,o.ax,o.base+.7,"#222",1.5);line(o.ax,o.base,o.x1+1,o.base,"#222",1.5);
 txt(o.tx,o.ty,o.title,{size:21.5,anchor:"middle"});txt(o.px,o.py,"Percentage",{size:21,anchor:"middle",rot:-90});}
shareBars(lrg1Share,{x0:709.3,x1:844,base:1431.5,top:1257.5,max:13.7,ticks:[0,5,10],ax:704.7,title:"Lrg1−high Granulocyte",tx:780.5,ty:1238,px:667,py:1347});
shareBars(tnfShare,{x0:709,x1:846,base:1686.5,top:1511,max:28.2,ticks:[0,10,20],ax:704,title:"TNF/IL23a high Granulocytes",tx:763,ty:1494,px:664,py:1608});
shareBars(prolifTShare,{x0:706.7,x1:845,base:1937,top:1766,max:1.32,ticks:[0,.5,1],ax:702.7,title:"Proliferating T cells",tx:781,ty:1741,px:665,py:1847,labels:true});

// ---------- panels F, G, H ----------
function weightPanel(o){const x=d3.scalePoint(weightGroups,[o.c0,o.c3]), y=d3.scaleLinear([0,o.max],[o.base,o.top]);
 svg.append("g").selectAll("rect").data(o.vals).join("rect").attr("x",(d,i)=>x(weightGroups[i])-14.3).attr("width",28.6).attr("y",d=>y(d)).attr("height",d=>o.base-y(d)).attr("fill",(d,i)=>weightColors[i]).attr("stroke","#1a1a1a").attr("stroke-width",1.8);
 o.pts.forEach((p,i)=>{const cx=x(weightGroups[i]);svg.append("g").selectAll("circle").data(p).join("circle").attr("cx",(d,j)=>cx+o.jit[i][j]).attr("cy",d=>y(d)).attr("r",3).attr("fill","#000");});
 o.err.forEach((e,i)=>{const cx=x(weightGroups[i]);line(cx,y(e[0]),cx,y(e[1]),"#111",1.6);line(cx-8.3,y(e[0]),cx+8.3,y(e[0]),"#111",1.6);line(cx-8.3,y(e[1]),cx+8.3,y(e[1]),"#111",1.6);});
 let a=svg.append("g").attr("transform",`translate(${o.ax},0)`).call(d3.axisLeft(y).tickValues(o.ticks).tickFormat(d=>d===0?"0":d.toFixed(1)).tickSize(9).tickPadding(4));styleAxis(a,{size:21,w:1.6});
 a=svg.append("g").attr("transform",`translate(0,${o.base})`).call(d3.axisBottom(x).tickSize(8).tickFormat(""));styleAxis(a,{w:1.6});
 line(o.ax,o.top,o.ax,o.base+.8,"#111",1.6);line(o.ax-9,o.base,o.xEnd,o.base,"#111",1.6);
 isoTgfbLabels.forEach((l,i)=>txt(x(weightGroups[i])+o.nudge[i],o.ly,l,{size:21,anchor:"middle"}));
 txt(o.gx,o.ly,"GnP+:",{size:21});
 txt(1007,o.yc,"Tumor weight",{size:20,anchor:"middle",rot:-90});txt(1034,o.yc,"(normalized)",{size:20,anchor:"middle",rot:-90});
 o.heads.forEach(h=>{txt(h[0],h[1],h[2],{size:21,anchor:"middle"});});
 o.ps.forEach(h=>{txt(h[0],h[1],h[2],{size:21,anchor:"middle",italic:true});});
 o.bars.forEach(b=>line(b[0],b[2],b[1],b[2],"#111",1.6));}
weightPanel({vals:weightF,err:errF,pts:pointsF,jit:jitterF,c0:1115.7,c3:1252.8,base:1428,top:1269,max:2,ticks:[0,.5,1,1.5,2],ax:1085.7,xEnd:1282.7,nudge:[-10,-2,3.7,12],ly:1458,gx:1018,yc:1335,
 heads:[[1142,1233,"WT"],[1235.7,1233,"TCRα -/-"]],ps:[[1134,1257.7,"P=.0005"],[1239,1257.7,"P=.0002"]],bars:[[1099,1163.7,1268.7],[1205,1269,1268.7]]});
weightPanel({vals:weightG,err:errG,pts:pointsG,jit:jitterG,c0:1116.7,c3:1255.3,base:1686.3,top:1524,max:1.5,ticks:[0,.5,1,1.5],ax:1086,xEnd:1286,nudge:[-22,-15,-8,-1],ly:1715,gx:1007.7,yc:1612,
 heads:[[1142,1493,"WT"],[1237.7,1493,"Rag2-/-"]],ps:[[1144,1517,"P=.0009"],[1242.7,1517,"P=.0104"]],bars:[[1106.7,1172,1526.3],[1206,1271,1526.3]]});
weightPanel({vals:weightH,err:errH,pts:pointsH,jit:jitterH,c0:1121,c3:1259.3,base:1938,top:1778,max:2,ticks:[0,.5,1,1.5,2],ax:1090.3,xEnd:1290,nudge:[-18,-10,-2,4],ly:1964,gx:1016,yc:1860,
 heads:[[1141,1744,"Isotype"],[1239,1744,"αCD8"]],ps:[[1146.7,1769,"P=.0023"],[1245.7,1769,"P=.0233"]],bars:[[1111,1179,1781],[1211,1279,1781]]});
</script></body></html>
